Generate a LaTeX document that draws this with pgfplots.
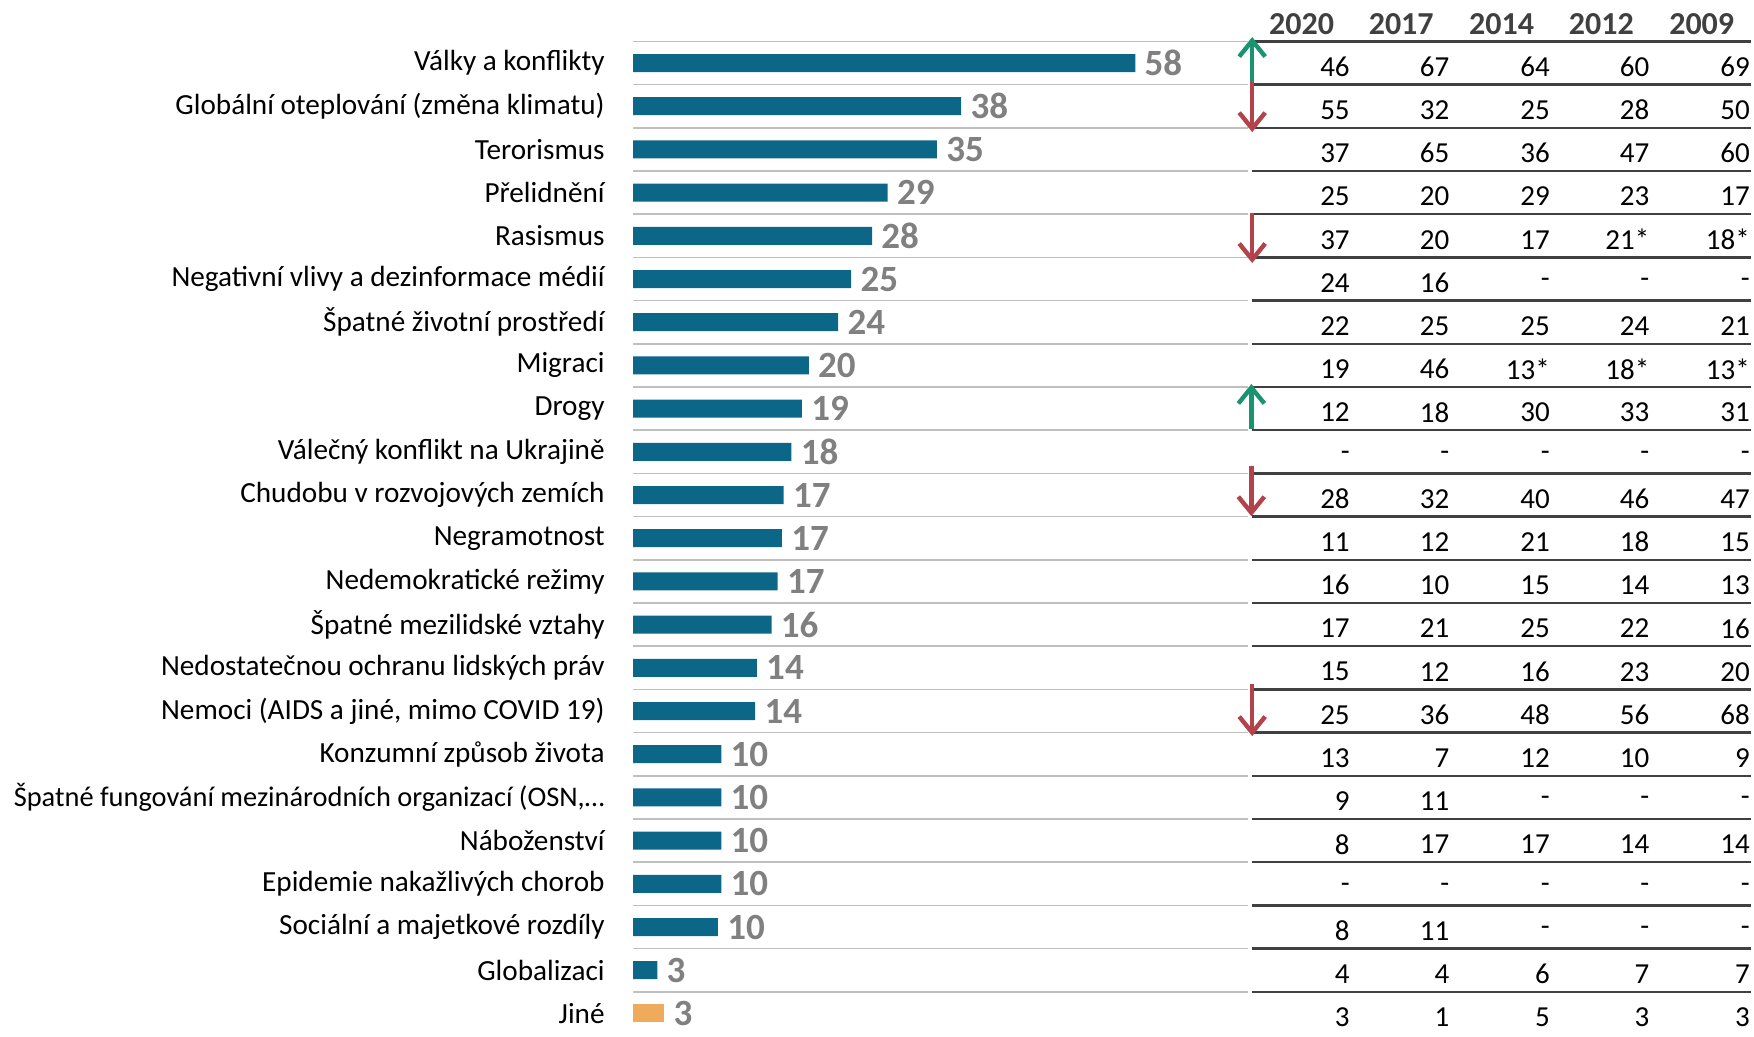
\documentclass[border=0pt]{standalone}
\usepackage{pgfplots}
\pgfplotsset{compat=1.18}
\usepackage{pgfplotstable}
\usetikzlibrary{arrows.meta}
\usepackage{fontspec}
\setmainfont{Carlito}
\definecolor{barblue}{HTML}{0B6687}
\definecolor{barorange}{HTML}{F0AA5C}
\definecolor{labgrey}{HTML}{808080}
\definecolor{hdr}{HTML}{404040}
\definecolor{lgrey}{HTML}{BFBFBF}
\definecolor{dgrey}{HTML}{404040}
\definecolor{upgreen}{HTML}{1A9470}
\definecolor{downred}{HTML}{B2434B}

\pgfplotstableread{
row v lab
0 58.0 58
1 37.9 38
2 35.1 35
3 29.4 29
4 27.6 28
5 25.2 25
6 23.7 24
7 20.3 20
8 19.5 19
9 18.3 18
10 17.4 17
11 17.2 17
12 16.7 17
13 16.0 16
14 14.3 14
15 14.1 14
16 10.2 10
17 10.2 10
18 10.2 10
19 10.2 10
20 9.8 10
21 2.8 3
}\bars

\pgfplotstableread{
row v lab
22 3.6 3
}\other

\pgfplotstableread{
row a b c d e
0 46 67 64 60 69
1 55 32 25 28 50
2 37 65 36 47 60
3 25 20 29 23 17
4 37 20 17 21* 18*
5 24 16 - - -
6 22 25 25 24 21
7 19 46 13* 18* 13*
8 12 18 30 33 31
9 - - - - -
10 28 32 40 46 47
11 11 12 21 18 15
12 16 10 15 14 13
13 17 21 25 22 16
14 15 12 16 23 20
15 25 36 48 56 68
16 13 7 12 10 9
17 9 11 - - -
18 8 17 17 14 14
19 - - - - -
20 8 11 - - -
21 4 4 6 7 7
22 3 1 5 3 3
}\tab

\begin{document}
\begin{tikzpicture}
\path[use as bounding box] (0,0) rectangle (877pt,-518.5pt);
\begin{axis}[
  at={(316.5pt,-20.7pt)}, anchor=north west,
  x=4.33pt, y=21.6pt, y dir=reverse,
  xmin=0, xmax=129.5, ymin=-0.5, ymax=22.5,
  clip=false,
  axis line style={draw=none},
  major tick length=0pt,
  xtick=\empty,
  ytick={0,...,22},
  yticklabels={Války a konflikty,Globální oteplování (změna klimatu),Terorismus,Přelidnění,Rasismus,Negativní vlivy a dezinformace médií,Špatné životní prostředí,Migraci,Drogy,Válečný konflikt na Ukrajině,Chudobu v rozvojových zemích,Negramotnost,Nedemokratické režimy,Špatné mezilidské vztahy,Nedostatečnou ochranu lidských práv,{Nemoci (AIDS a jiné, mimo COVID 19)},Konzumní způsob života,{\fontsize{14.2}{16}\selectfont Špatné fungování mezinárodních organizací (OSN,…},Náboženství,Epidemie nakažlivých chorob,Sociální a majetkové rozdíly,Globalizaci,Jiné},
  yticklabel style={font=\fontsize{14.6}{16}\selectfont, text=black, anchor=east, inner sep=0pt, xshift=-14pt},
  /pgf/number format/assume math mode=true,
]
% separator lines
\pgfplotsinvokeforeach{-0.5,0.5,...,21.5}{
  \draw[lgrey, line width=0.8pt] (axis cs:0,#1) -- (axis cs:71,#1);
  \draw[dgrey, line width=1.2pt] (axis cs:71.5,#1) -- (axis cs:129.1,#1);
}
% bars
\addplot[xbar, bar width=9pt, bar shift=0pt, fill=barblue, draw=none,
  nodes near coords, nodes near coords align=horizontal, point meta=explicit,
  nodes near coords style={anchor=west, inner sep=0pt, xshift=4.5pt, text=labgrey, font=\fontsize{18.5}{18}\selectfont\bfseries}]
  table[x=v, y=row, meta=lab] {\bars};
\addplot[xbar, bar width=9pt, bar shift=0pt, fill=barorange, draw=none,
  nodes near coords, nodes near coords align=horizontal, point meta=explicit,
  nodes near coords style={anchor=west, inner sep=0pt, xshift=4.5pt, text=labgrey, font=\fontsize{18.5}{18}\selectfont\bfseries}]
  table[x=v, y=row, meta=lab] {\other};
% table columns
\pgfplotsset{tabcol/.style={only marks, mark=*, mark size=0pt, mark options={draw=none, fill=none},
  nodes near coords, point meta=explicit symbolic,
  nodes near coords style={anchor=east, inner sep=0pt, text=black, font=\fontsize{14.5}{16}\selectfont}}}
\addplot[tabcol] table[x expr=82.8, y expr=\thisrow{row}+0.09, meta=a] {\tab};
\addplot[tabcol] table[x expr=94.3, y expr=\thisrow{row}+0.09, meta=b] {\tab};
\addplot[tabcol] table[x expr=105.9, y expr=\thisrow{row}+0.09, meta=c] {\tab};
\addplot[tabcol] table[x expr=117.4, y expr=\thisrow{row}+0.09, meta=d] {\tab};
\addplot[tabcol] table[x expr=129.0, y expr=\thisrow{row}+0.09, meta=e] {\tab};
% headers
\node[anchor=east, inner sep=0pt, text=hdr, font=\fontsize{16}{16}\selectfont\bfseries] at (axis cs:81.0,-0.9) {2020};
\node[anchor=east, inner sep=0pt, text=hdr, font=\fontsize{16}{16}\selectfont\bfseries] at (axis cs:92.5,-0.9) {2017};
\node[anchor=east, inner sep=0pt, text=hdr, font=\fontsize{16}{16}\selectfont\bfseries] at (axis cs:104.1,-0.9) {2014};
\node[anchor=east, inner sep=0pt, text=hdr, font=\fontsize{16}{16}\selectfont\bfseries] at (axis cs:115.6,-0.9) {2012};
\node[anchor=east, inner sep=0pt, text=hdr, font=\fontsize{16}{16}\selectfont\bfseries] at (axis cs:127.2,-0.9) {2009};
% trend arrows
\addplot[upgreen, line width=2.2pt, -{Straight Barb[length=8pt, width=13pt]},
  quiver={u=\thisrow{u}, v=\thisrow{v}}]
  table[x=x, y=y] {
x y u v
71.5 0.45 0 -1.05
71.4 8.47 0 -1.04
};
\addplot[downred, line width=2.2pt, -{Straight Barb[length=8pt, width=13pt]},
  quiver={u=\thisrow{u}, v=\thisrow{v}}]
  table[x=x, y=y] {
x y u v
71.5 0.45 0 1.15
71.5 3.47 0 1.16
71.4 9.32 0 1.17
71.5 14.38 0 1.2
};
\end{axis}
\end{tikzpicture}
\end{document}
